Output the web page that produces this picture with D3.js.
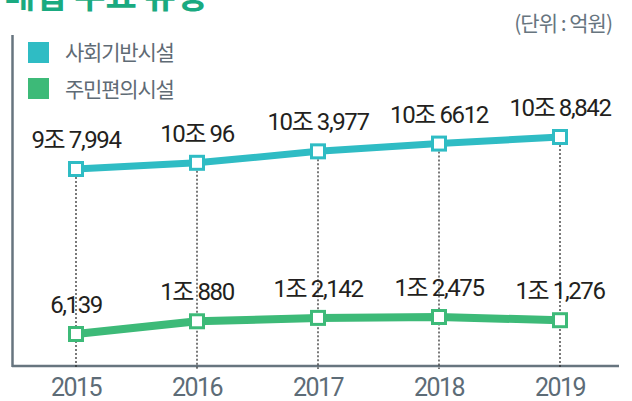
<!DOCTYPE html>
<html>
<head>
<meta charset="utf-8">
<script src="https://cdn.jsdelivr.net/npm/d3@7"></script>
<style>
  body { margin: 0; background: #fff; }
  svg { display: block; }
  .num { font-family: "Liberation Sans Narrow", Roboto, "Noto Sans CJK KR", sans-serif; }
  .kr { font-family: "Noto Sans CJK KR", sans-serif; }
</style>
</head>
<body>
<script>
// data
var years = [2015, 2016, 2017, 2018, 2019];
var infra = [97994, 100096, 103977, 106612, 108842];
var infraLabels = ["9조 7,994", "10조 96", "10조 3,977", "10조 6612", "10조 8,842"];
var living = [6139, 10880, 12142, 12475, 11276];
var livingLabels = ["6,139", "1조 880", "1조 2,142", "1조 2,475", "1조 1,276"];
var seriesNames = ["사회기반시설", "주민편의시설"];
var colors = ["#2fbcc4", "#3dba78"];

var W = 632, H = 401;
var axisColor = "#67757f";

var svg = d3.select("body").append("svg")
  .attr("width", W).attr("height", H);

// title (cut off at top)
svg.append("text")
  .attr("class", "kr")
  .attr("x", 4).attr("y", 8)
  .attr("fill", "#1aaa80")
  .attr("font-size", 34).attr("font-weight", 700)
  .text("매입 주요 유형");

svg.append("text")
  .attr("class", "kr")
  .attr("x", 612).attr("y", 31)
  .attr("text-anchor", "end")
  .attr("fill", "#67757f")
  .attr("font-size", 21)
  .attr("letter-spacing", -1)
  .text("(단위 : 억원)");

// scales: broken axis, one scale per band
var x = d3.scalePoint().domain(years).range([76, 560]);
var yTop = d3.scaleLinear().domain(d3.extent(infra)).range([169, 137]);
var yBot = d3.scaleLinear().domain([6139, 12475]).range([334, 317]);

var axisY = 366;

// axes
svg.append("line")
  .attr("x1", 12.5).attr("x2", 12.5).attr("y1", 35).attr("y2", axisY + 1)
  .attr("stroke", axisColor).attr("stroke-width", 2.5);
svg.append("line")
  .attr("x1", 12).attr("x2", 619).attr("y1", axisY).attr("y2", axisY)
  .attr("stroke", axisColor).attr("stroke-width", 2.5);

svg.append("g").selectAll("text")
  .data(years).enter().append("text")
  .attr("class", "num")
  .attr("x", d => x(d)).attr("y", 396)
  .attr("text-anchor", "middle")
  .attr("fill", "#5d6c77")
  .attr("font-size", 25)
  .attr("letter-spacing", -1.5)
  .text(d => d);

// dotted guides
svg.append("g").selectAll("line")
  .data(years).enter().append("line")
  .attr("x1", d => x(d)).attr("x2", d => x(d))
  .attr("y1", (d, i) => yTop(infra[i])).attr("y2", axisY + 3)
  .attr("stroke", "#222").attr("stroke-width", 1.2)
  .attr("stroke-dasharray", "2,2");

// legend
var legend = svg.append("g");
seriesNames.forEach(function(name, i){
  legend.append("rect")
    .attr("x", 28).attr("y", 42 + i * 36)
    .attr("width", 21).attr("height", 21)
    .attr("fill", colors[i]);
  legend.append("text")
    .attr("class", "kr")
    .attr("x", 65).attr("y", 60 + i * 37)
    .attr("fill", "#5f6b75")
    .attr("font-size", 21)
    .attr("letter-spacing", -1.2)
    .text(name);
});

function drawSeries(values, labels, y, color, lw){
  var g = svg.append("g");
  var line = d3.line().x((d, i) => x(years[i])).y(d => y(d));
  g.append("path")
    .datum(values)
    .attr("d", line)
    .attr("fill", "none")
    .attr("stroke", color)
    .attr("stroke-width", lw)
    .attr("stroke-linejoin", "round");
  g.selectAll("rect")
    .data(values).enter().append("rect")
    .attr("x", (d, i) => x(years[i]) - 6.5)
    .attr("y", d => y(d) - 6.5)
    .attr("width", 13).attr("height", 13)
    .attr("fill", "#fff")
    .attr("stroke", color)
    .attr("stroke-width", 3);
  g.selectAll("text")
    .data(values).enter().append("text")
    .attr("class", "num")
    .attr("x", (d, i) => x(years[i]))
    .attr("y", d => y(d) - 21)
    .attr("text-anchor", "middle")
    .attr("fill", "#231f20")
    .attr("font-size", 24)
    .attr("letter-spacing", -1.4)
    .text((d, i) => labels[i]);
}

drawSeries(infra, infraLabels, yTop, colors[0], 7);
drawSeries(living, livingLabels, yBot, colors[1], 8);
</script>
</body>
</html>
